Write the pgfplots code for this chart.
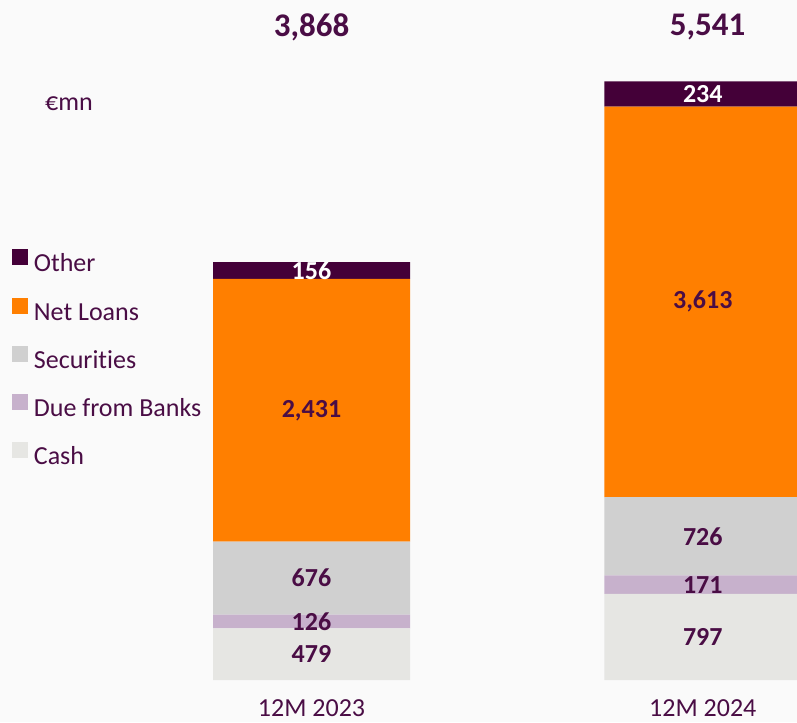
\documentclass[border=0pt]{standalone}
\usepackage{pgfplots}
\usepackage{pgfplotstable}
\pgfplotsset{compat=1.18}
\usepackage{fontspec}
\setmainfont{Carlito}[Ligatures=NoCommon]
\definecolor{cOther}{HTML}{440038}
\definecolor{cLoans}{HTML}{FF7F00}
\definecolor{cSec}{HTML}{D0D0D0}
\definecolor{cDue}{HTML}{C7B1CC}
\definecolor{cCash}{HTML}{E6E6E3}
\definecolor{txt}{HTML}{4A0D45}
\definecolor{bg}{HTML}{FAFAFA}
\pgfplotstableread{
x     cash due sec loans other
311.5 479  126 676 2431  156
702.8 797  171 726 3613  234
}\bsdata
\begin{document}
\begin{tikzpicture}
\begin{axis}[
  at={(0pt,0pt)}, anchor=south west,
  scale only axis, width=797pt, height=722pt,
  xmin=0, xmax=797, ymin=-388.6, ymax=6292.2,
  ybar stacked, bar width=197,
  axis line style={draw=none}, ytick=\empty,
  xtick={311.5,702.8}, xticklabels={12M 2023,12M 2024},
  major tick length=0pt,
  xticklabel style={font=\fontsize{26}{30}\selectfont, text=txt, anchor=center, inner sep=0pt, yshift=14pt},
  axis background/.style={fill=bg},
  point meta=explicit,
  nodes near coords,
  /pgf/number format/.cd, fixed, precision=0, 1000 sep={,}, assume math mode=true,
  /pgfplots/.cd,
  every node near coord/.append style={font=\bfseries\fontsize{26}{30}\selectfont, text=txt, anchor=center, inner sep=0pt},
  legend image code/.code={\fill[#1, draw=none] (0pt,0pt) rectangle (16pt,16pt);},
  reverse legend,
  legend cell align=left,
  legend style={at={(0.0147,0.6551)}, anchor=north west, draw=none, fill=none, inner sep=0pt,
    font=\fontsize{26}{30}\selectfont, text=txt, row sep=19.75pt, column sep=6pt,
    nodes={inner sep=0pt, text height=19pt, text depth=6pt}},
]
\addplot[fill=cCash, draw=none] table[x=x, y=cash, meta=cash] {\bsdata};
\addplot[fill=cDue, draw=none] table[x=x, y=due, meta=due] {\bsdata};
\addplot[fill=cSec, draw=none] table[x=x, y=sec, meta=sec] {\bsdata};
\addplot[fill=cLoans, draw=none] table[x=x, y=loans, meta=loans] {\bsdata};
\addplot[fill=cOther, draw=none, every node near coord/.append style={text=white}] table[x=x, y=other, meta=other] {\bsdata};
\legend{Cash, Due from Banks, Securities, Net Loans, Other}
\end{axis}
\node[font=\bfseries\fontsize{33}{38}\selectfont, text=txt] at (311.5pt,695pt) {3,868};
\node[font=\bfseries\fontsize{33}{38}\selectfont, text=txt] at (707.5pt,695pt) {5,541};
\node[font=\fontsize{26}{30}\selectfont, text=txt, anchor=west, inner sep=0pt] at (45pt,618pt) {€mn};
\end{tikzpicture}
\end{document}
